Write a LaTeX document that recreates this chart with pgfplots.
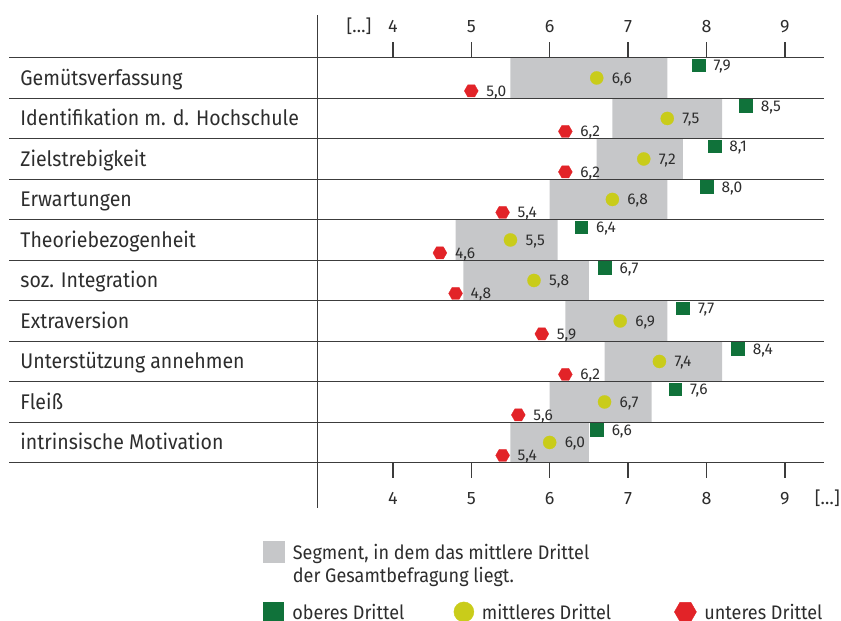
\documentclass[border=0pt]{standalone}
\usepackage{fontspec}
\setmainfont{Fira Sans}
\newfontfamily\condfont{Fira Sans}[FakeStretch=0.92]
\usepackage{pgfplots}
\usepackage{pgfplotstable}
\pgfplotsset{compat=1.18}
\definecolor{segGray}{RGB}{198,199,201}
\definecolor{oGreen}{RGB}{16,114,58}
\definecolor{mYellow}{RGB}{201,204,26}
\definecolor{uRed}{RGB}{226,35,40}
\definecolor{lineGray}{RGB}{60,60,60}
\definecolor{txtGray}{RGB}{45,45,45}

\pgfdeclareplotmark{hexagon*}{%
  \pgfpathmoveto{\pgfpointpolar{0}{\pgfplotmarksize}}%
  \pgfpathlineto{\pgfpointpolar{60}{\pgfplotmarksize}}%
  \pgfpathlineto{\pgfpointpolar{120}{\pgfplotmarksize}}%
  \pgfpathlineto{\pgfpointpolar{180}{\pgfplotmarksize}}%
  \pgfpathlineto{\pgfpointpolar{240}{\pgfplotmarksize}}%
  \pgfpathlineto{\pgfpointpolar{300}{\pgfplotmarksize}}%
  \pgfpathclose
  \pgfusepathqfillstroke}

% r = row (0 = bottom), lo/hi = grey segment, top/mid/bot = upper/middle/lower third
\pgfplotstableread{
r lo  hi  top mid bot
9 5.5 7.5 7.9 6.6 5.0
8 6.8 8.2 8.5 7.5 6.2
7 6.6 7.7 8.1 7.2 6.2
6 6.0 7.5 8.0 6.8 5.4
5 4.8 6.1 6.4 5.5 4.6
4 4.9 6.5 6.7 5.8 4.8
3 6.2 7.5 7.7 6.9 5.9
2 6.7 8.2 8.4 7.4 6.2
1 6.0 7.3 7.6 6.7 5.6
0 5.5 6.5 6.6 6.0 5.4
}\data

\pgfplotsset{
  /pgf/number format/assume math mode=true,
  chartbase/.style={
    width=841pt, height=620pt, scale only axis,
    xmin=-1.011, xmax=9.716, ymin=-3.884, ymax=11.425,
    hide axis, clip=false, enlargelimits=false,
  },
  valuelabel/.style={
    point meta=x,
    nodes near coords={\pgfmathprintnumber[fixed,fixed zerofill,precision=1,use comma]{\pgfplotspointmeta}},
    nodes near coords style={anchor=base west, inner sep=0pt, xshift=15pt, yshift=-5.4pt,
      text=txtGray, font=\fontsize{15.5}{18}\selectfont},
  },
  markleg/.style={legend image code/.code={\draw[mark repeat=2,mark phase=2,##1] plot coordinates {(0pt,0pt) (10pt,0pt) (20pt,0pt)};}},
  segleg/.style={legend image code/.code={\fill[segGray] (0pt,-10.5pt) rectangle (21pt,10.5pt);}},
}

\begin{document}
\begin{tikzpicture}
% grey segments
\begin{axis}[chartbase, xbar stacked, bar width=1, bar shift=0pt]
\addplot[draw=none, fill=none] table[x=lo, y expr=\thisrow{r}+0.5] {\data};
\addplot[draw=none, fill=segGray] table[x expr=\thisrow{hi}-\thisrow{lo}, y expr=\thisrow{r}+0.5] {\data};
\end{axis}

\begin{axis}[chartbase, name=ax,
  legend columns=3, legend cell align=left,
  legend style={at={(rel axis cs:0.31272,0.12742)}, anchor=north west, draw=none, fill=none,
    inner sep=0pt, outer sep=0pt, row sep=39.5pt,
    nodes={inner sep=0pt, text height=15pt, text depth=0pt, text=txtGray, font=\condfont\fontsize{19.6}{23.5}\selectfont},
    /tikz/every odd column/.style={column sep=8pt}},
]
% row lines
\pgfplotsinvokeforeach{0,...,10}{
  \draw[lineGray, line width=1.4pt] (axis cs:-0.893,#1) -- (axis cs:9.499,#1);
}
% vertical axis line
\draw[lineGray, line width=1.4pt] (axis cs:3.036,11.054) -- (axis cs:3.036,-1.119);
% ticks
\pgfplotsinvokeforeach{4,...,9}{
  \draw[lineGray, line width=1.4pt] (axis cs:#1,10) -- (axis cs:#1,10.388);
  \draw[lineGray, line width=1.4pt] (axis cs:#1,0) -- (axis cs:#1,-0.378);
  \node[anchor=base, inner sep=0pt, text=txtGray, font=\fontsize{17.9}{20}\selectfont] at (axis cs:#1,10.627) {#1};
  \node[anchor=base, inner sep=0pt, text=txtGray, font=\fontsize{17.9}{20}\selectfont] at (axis cs:#1,-1.044) {#1};
}
\node[anchor=base, inner sep=0pt, text=txtGray, font=\fontsize{17.9}{20}\selectfont] at (axis cs:3.568,10.627) {[…]};
\node[anchor=base east, inner sep=0pt, text=txtGray, font=\fontsize{17.9}{20}\selectfont] at (axis cs:9.703,-1.044) {[…]};
% category labels
\begin{scope}[every node/.style={anchor=base west, inner sep=0pt, yshift=-7.4pt, text=txtGray, font=\condfont\fontsize{21.2}{24}\selectfont}]
\node at (axis cs:-0.753,9.5) {Gemütsverfassung};
\node at (axis cs:-0.753,8.5) {Identifikation m. d. Hochschule};
\node at (axis cs:-0.753,7.5) {Zielstrebigkeit};
\node at (axis cs:-0.753,6.5) {Erwartungen};
\node at (axis cs:-0.753,5.5) {Theoriebezogenheit};
\node at (axis cs:-0.753,4.5) {soz. Integration};
\node at (axis cs:-0.753,3.5) {Extraversion};
\node at (axis cs:-0.753,2.5) {Unterstützung annehmen};
\node at (axis cs:-0.753,1.5) {Fleiß};
\node at (axis cs:-0.753,0.5) {intrinsische Motivation};
\end{scope}
% markers
\addplot[forget plot, only marks, mark=square*, mark size=6.4pt, mark options={fill=oGreen, draw=oGreen, line width=0.2pt}, valuelabel]
  table[x=top, y expr=\thisrow{r}+0.815] {\data};
\addplot[forget plot, only marks, mark=*, mark size=6.6pt, mark options={fill=mYellow, draw=mYellow, line width=0.2pt}, valuelabel]
  table[x=mid, y expr=\thisrow{r}+0.5] {\data};
\addplot[forget plot, only marks, mark=hexagon*, mark size=7pt, mark options={fill=uRed, draw=uRed, line width=0.2pt}, valuelabel]
  table[x=bot, y expr=\thisrow{r}+0.18] {\data};
% legend
\addlegendimage{segleg}
\addlegendentry{\makebox[0pt][l]{\parbox[t]{330pt}{Segment, in dem das mittlere Drittel\\der Gesamtbefragung liegt.}}}
\addlegendimage{empty legend}\addlegendentry{}
\addlegendimage{empty legend}\addlegendentry{}
\addlegendimage{only marks, mark=square*, mark size=10pt, mark options={fill=oGreen, draw=oGreen}, markleg}
\addlegendentry{\makebox[161.5pt][l]{oberes Drittel}}
\addlegendimage{only marks, mark=*, mark size=10pt, mark options={fill=mYellow, draw=mYellow}, markleg}
\addlegendentry{\makebox[192.5pt][l]{mittleres Drittel}}
\addlegendimage{only marks, mark=hexagon*, mark size=11pt, mark options={fill=uRed, draw=uRed}, markleg}
\addlegendentry{unteres Drittel}
\end{axis}
\pgfresetboundingbox
\path[use as bounding box] (ax.south west) rectangle (ax.north east);
\end{tikzpicture}
\end{document}
